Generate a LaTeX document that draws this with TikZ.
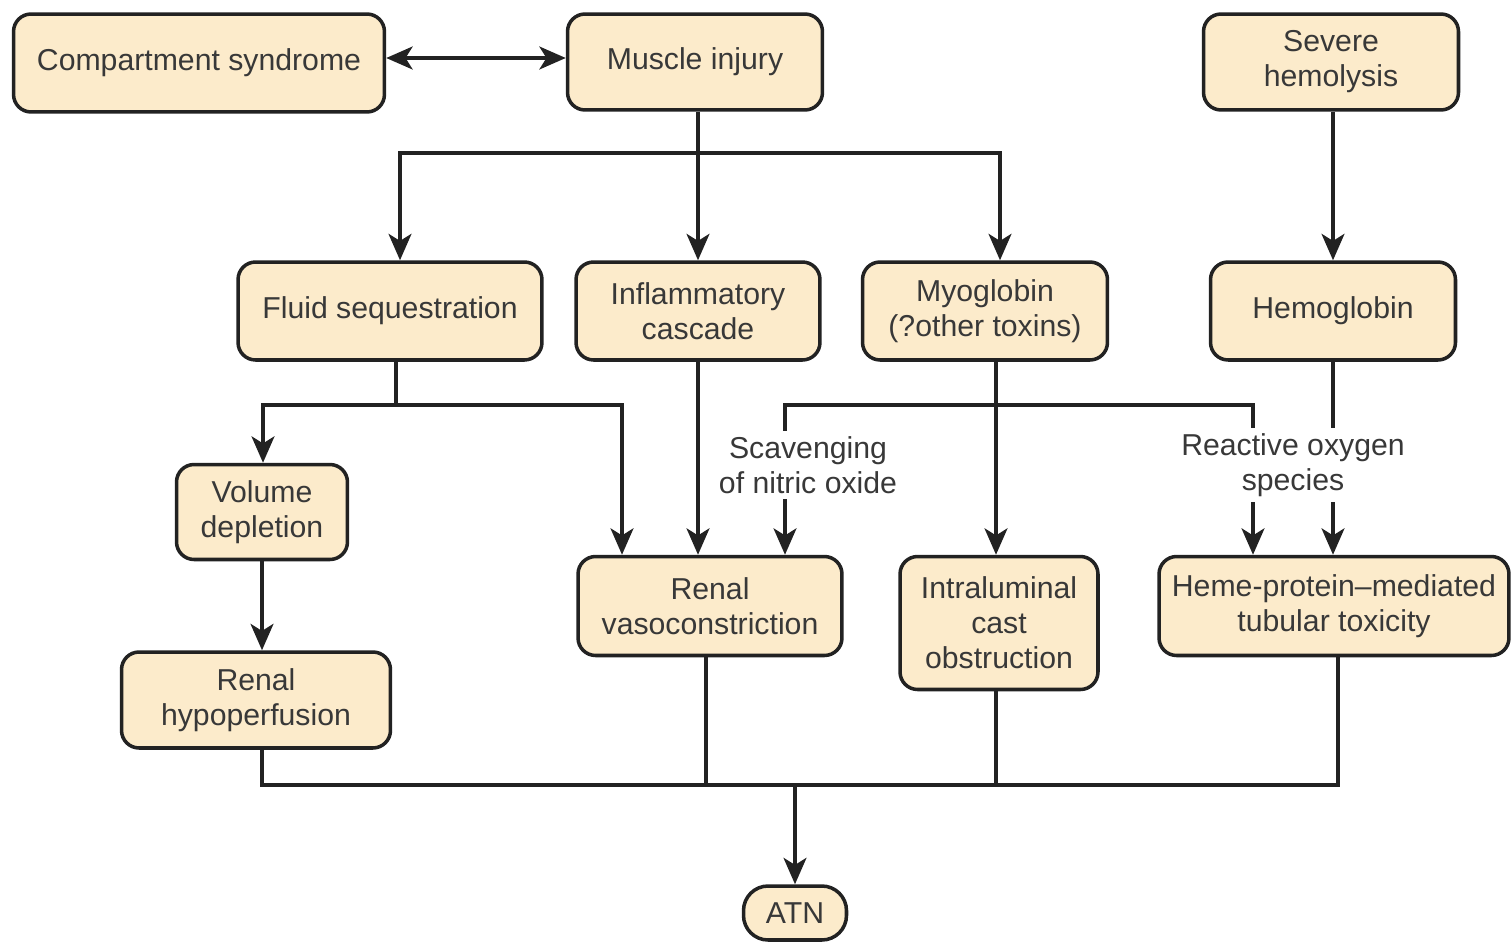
\documentclass[tikz,border=0pt]{standalone}
\usepackage{fontspec}
\setmainfont{Liberation Sans}
\usetikzlibrary{arrows.meta}
\definecolor{boxfill}{HTML}{FCEBCB}
\definecolor{txt}{HTML}{383838}
\definecolor{ln}{HTML}{222222}
\begin{document}
\begin{tikzpicture}[x=0.02cm,y=-0.02cm,
  box/.style={draw=ln, line width=2pt, fill=boxfill, rounded corners=10pt,
    align=center, text=txt, font=\fontsize{17.2}{20}\selectfont, inner sep=0pt},
  conn/.style={line width=2.1pt, draw=ln},
  tip/.style={},
  arr/.style={conn, -{Stealth[length=15pt,width=13pt,inset=4pt]}},
  arrboth/.style={conn, {Stealth[length=15pt,width=13pt,inset=4pt]}-{Stealth[length=15pt,width=13pt,inset=4pt]}},
  lbl/.style={fill=white, align=center, text=txt, font=\fontsize{17.2}{20}\selectfont, inner sep=3pt}]
\useasboundingbox (0,0) rectangle (1511,943);

% nodes
\node[box, minimum width=7.42cm, minimum height=1.96cm] (comp) at (199,63) {Compartment syndrome};
\node[box, minimum width=5.1cm, minimum height=1.92cm] (muscle) at (695,62) {Muscle injury};
\node[box, minimum width=5.1cm, minimum height=1.92cm] (hemo) at (1331,62) {Severe\\hemolysis};
\node[box, minimum width=6.08cm, minimum height=1.96cm] (fluid) at (390,311) {Fluid sequestration};
\node[box, minimum width=4.88cm, minimum height=1.96cm] (infl) at (698,311) {Inflammatory\\cascade};
\node[box, minimum width=4.9cm, minimum height=1.96cm] (myo) at (985,311) {Myoglobin\\(?other toxins)};
\node[box, minimum width=4.9cm, minimum height=1.96cm] (hgb) at (1333,311) {Hemoglobin};
\node[box, minimum width=3.42cm, minimum height=1.9cm] (vol) at (262,512) {Volume\\depletion};
\node[box, minimum width=5.28cm, minimum height=1.98cm] (renvc) at (710,606) {Renal\\vasoconstriction};
\node[box, minimum width=3.96cm, minimum height=2.66cm] (intra) at (999,623) {Intraluminal\\cast\\obstruction};
\node[box, minimum width=7.0cm, minimum height=1.98cm] (heme) at (1334,606) {Heme-protein--mediated\\tubular toxicity};
\node[box, minimum width=5.38cm, minimum height=1.92cm] (hypo) at (256,700) {Renal\\hypoperfusion};
\node[box, minimum width=2.06cm, minimum height=1.08cm, rounded corners=14pt] (atn) at (795,913) {ATN};

% junction coordinates
\coordinate (cA) at (0,58);
\coordinate (jL) at (400,153);
\coordinate (jR) at (1000,153);
\coordinate (fC) at (396,405);
\coordinate (fL) at (263,405);
\coordinate (fR) at (622,405);
\coordinate (mC) at (996,405);
\coordinate (mL) at (785,405);
\coordinate (mR) at (1253,405);
\coordinate (bL) at (262,785);
\coordinate (bR) at (1338,785);
\coordinate (bV) at (706,785);
\coordinate (bI) at (996,785);
\coordinate (bA) at (795,785);

% connectors
\draw[arrboth] (comp.east |- cA) -- (muscle.west |- cA);
\draw[arr] (muscle.south -| infl.north) -- (infl.north);
\draw[arrboth] (jL |- fluid.north) -- (jL) -- (jR) -- (jR |- myo.north);
\draw[arr] (hemo.south -| hgb.north) -- (hgb.north);

\draw[conn] (fC |- fluid.south) -- (fC);
\draw[arrboth] (fL |- vol.north) -- (fL) -- (fR) -- (fR |- renvc.north);
\draw[arr] (infl.south) -- (infl.south |- renvc.north);
\draw[arr] (mC |- myo.south) -- (mC |- intra.north);
\draw[arrboth] (mL |- renvc.north) -- (mL) -- (mR) -- (mR |- heme.north);
\draw[arr] (hgb.south) -- (hgb.south |- heme.north);
\draw[arr] (vol.south) -- (vol.south |- hypo.north);

\draw[conn] (bL |- hypo.south) -- (bL) -- (bR) -- (bR |- heme.south);
\draw[conn] (bV |- renvc.south) -- (bV);
\draw[conn] (bI |- intra.south) -- (bI);
\draw[arr] (bA) -- (atn.north);

% labels
\node[lbl] (scav) at (808,465) {Scavenging\\of nitric oxide};
\node[lbl] (ros) at (1293,465) {Reactive oxygen\\species};
\end{tikzpicture}
\end{document}
